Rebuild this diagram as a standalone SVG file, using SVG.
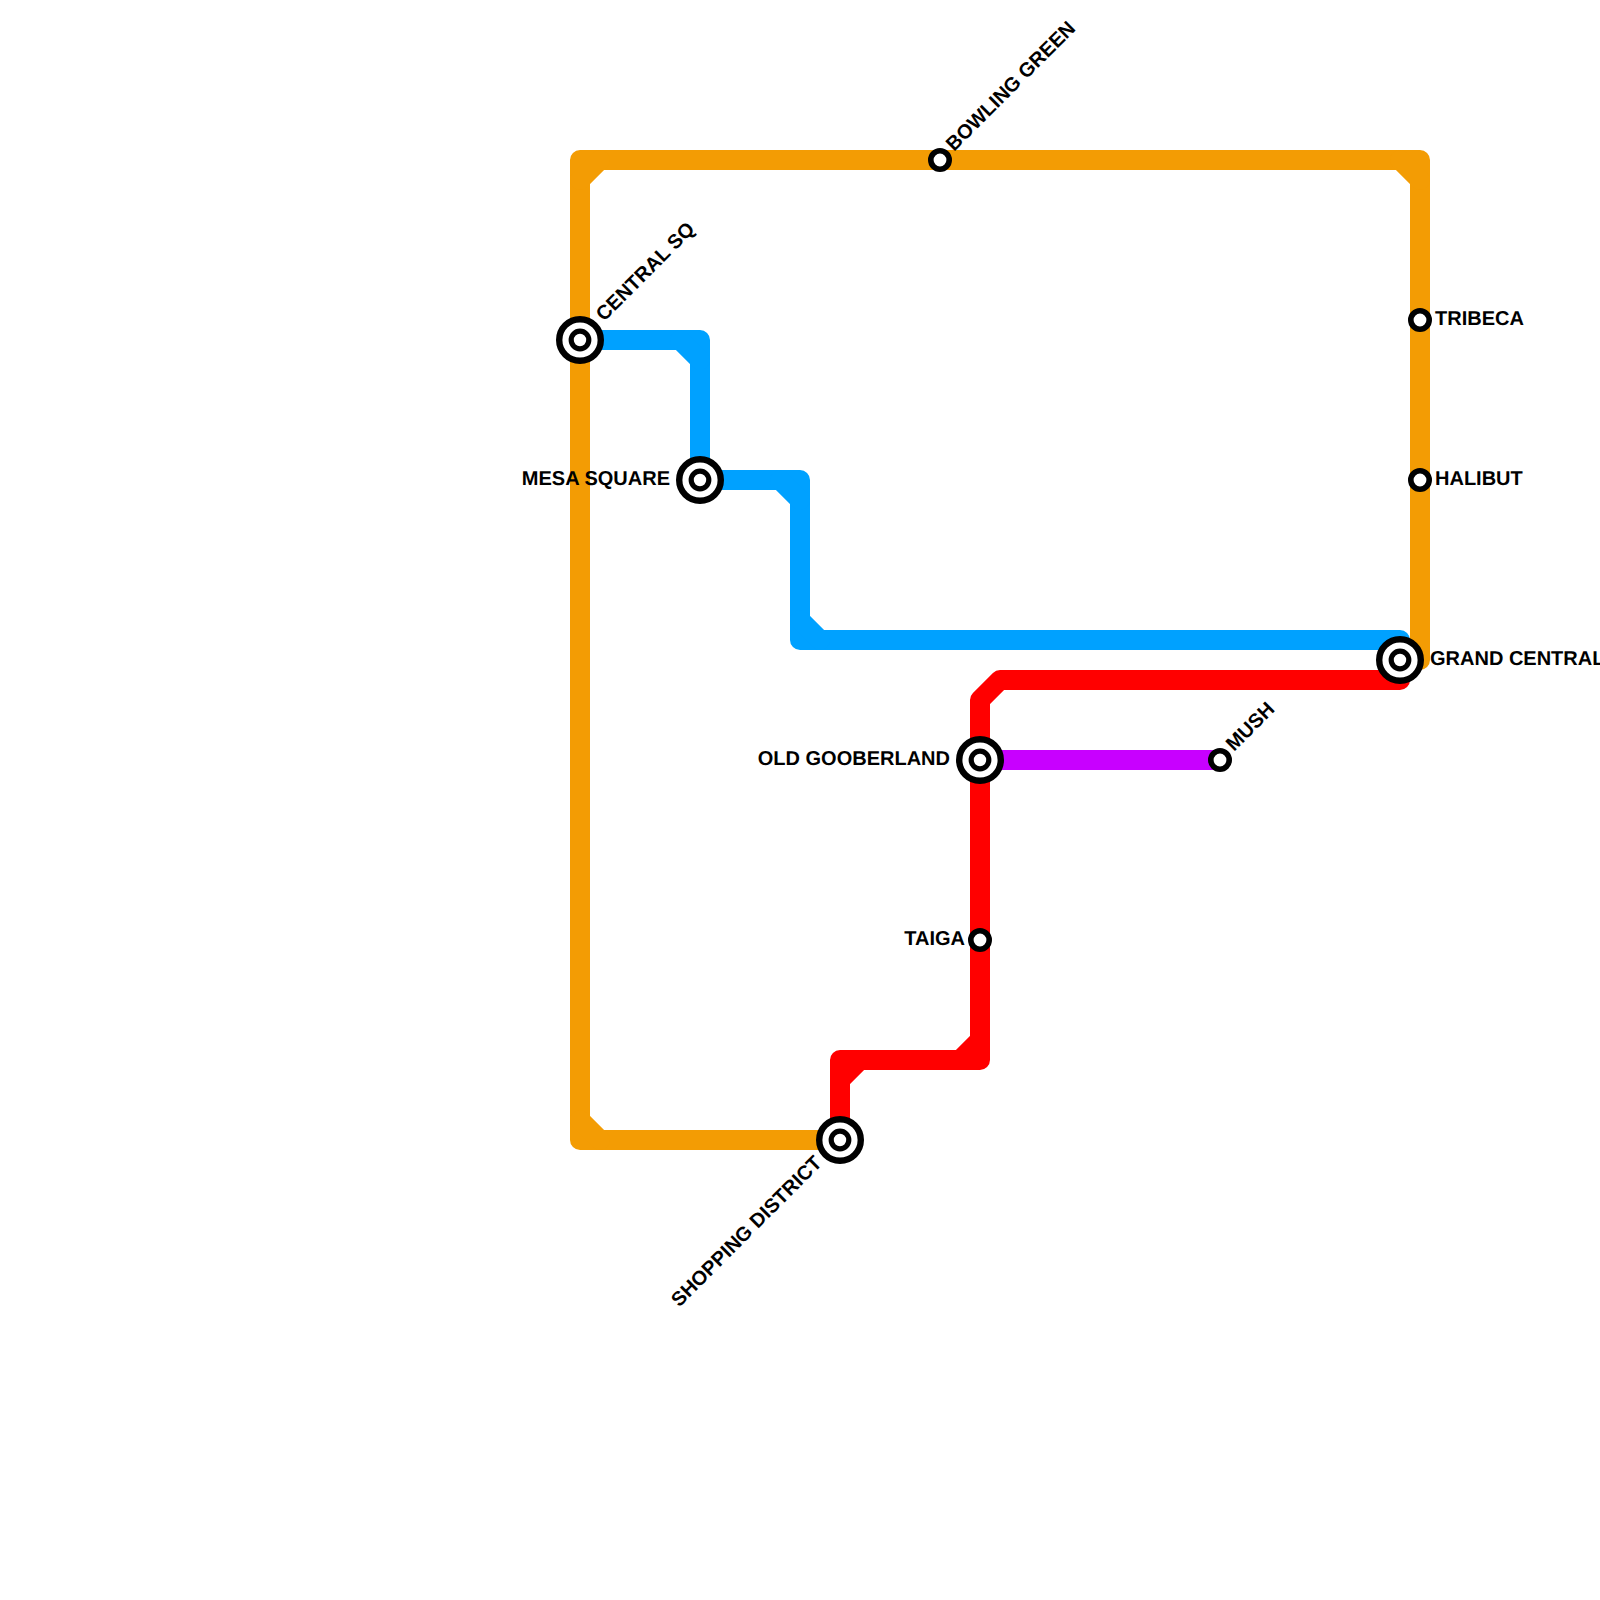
<svg xmlns="http://www.w3.org/2000/svg" width="1600" height="1600" viewBox="0 0 1600 1600">
<style>
.l{fill:none;stroke-width:20;stroke-linejoin:round;stroke-linecap:round}
.o{stroke:#f39c04}.b{stroke:#00a1ff}.r{stroke:#ff0000}.p{stroke:#c800ff}
.x1{fill:#fff;stroke:#000;stroke-width:6.4}
.x2{fill:#fff;stroke:#000;stroke-width:5.2}
.s{fill:#fff;stroke:#000;stroke-width:5.6}
text{font-family:"Liberation Sans",Arial,sans-serif;font-weight:bold;font-size:20px;fill:#000;text-rendering:geometricPrecision}
</style>
<rect width="1600" height="1600" fill="#fff"/>
<g id="connectors">
<path class="l o" d="M840 1140H580V160H1420V660"/>
<path class="l o" d="M580 180L600 160M1400 160L1420 180M580 1120L600 1140"/>
<path class="l b" d="M580 340H700V480H800V640H1400"/>
<path class="l b" d="M680 340L700 360M780 480L800 500M800 620L820 640"/>
<path class="l r" d="M1400 680H1000L980 700V1060H840V1140"/>
<path class="l r" d="M960 1060L980 1040M840 1080L860 1060"/>
<path class="l p" d="M980 760H1220"/>
</g>
<g id="central-sq"><circle class="x1" cx="580" cy="340" r="20.8"/><circle class="x2" cx="580" cy="340" r="8.8"/><text transform="translate(604 322) rotate(-45)">CENTRAL SQ</text></g>
<g id="mesa-square"><circle class="x1" cx="700" cy="480" r="20.8"/><circle class="x2" cx="700" cy="480" r="8.8"/><text x="670" y="485" text-anchor="end">MESA SQUARE</text></g>
<g id="bowling-green"><circle class="s" cx="940" cy="160" r="9.2"/><text transform="translate(954 152) rotate(-45)">BOWLING GREEN</text></g>
<g id="tribeca"><circle class="s" cx="1420" cy="320" r="9.2"/><text x="1435" y="325">TRIBECA</text></g>
<g id="halibut"><circle class="s" cx="1420" cy="480" r="9.2"/><text x="1435" y="485">HALIBUT</text></g>
<g id="grand-central"><circle class="x1" cx="1400" cy="660" r="20.8"/><circle class="x2" cx="1400" cy="660" r="8.8"/><text x="1430" y="665">GRAND CENTRAL</text></g>
<g id="old-gooberland"><circle class="x1" cx="980" cy="760" r="20.8"/><circle class="x2" cx="980" cy="760" r="8.8"/><text x="950" y="765" text-anchor="end">OLD GOOBERLAND</text></g>
<g id="mush"><circle class="s" cx="1220" cy="760" r="9.2"/><text transform="translate(1234 752) rotate(-45)">MUSH</text></g>
<g id="taiga"><circle class="s" cx="980" cy="940" r="9.2"/><text x="965" y="945" text-anchor="end">TAIGA</text></g>
<g id="shopping-district"><circle class="x1" cx="840" cy="1140" r="20.8"/><circle class="x2" cx="840" cy="1140" r="8.8"/><text transform="translate(823 1164) rotate(-45)" text-anchor="end">SHOPPING DISTRICT</text></g>
</svg>
